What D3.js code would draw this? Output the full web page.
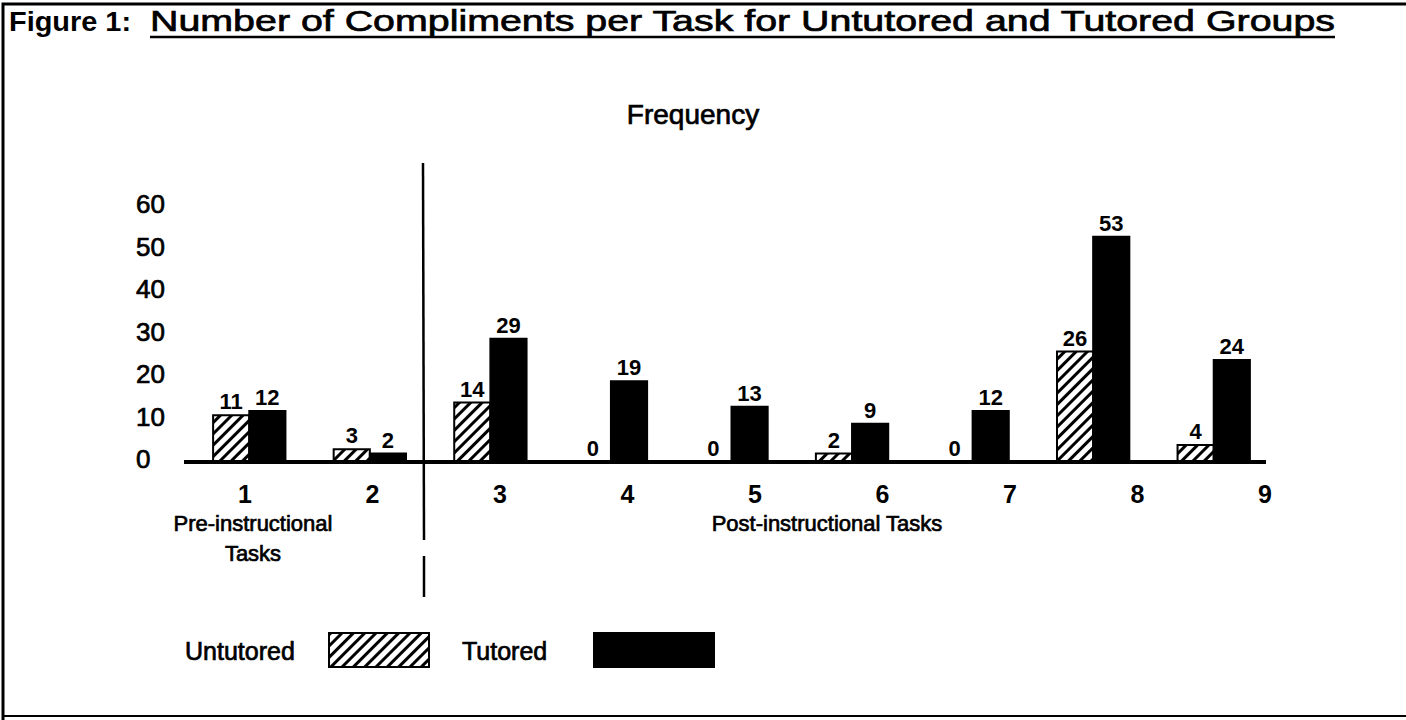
<!DOCTYPE html>
<html><head><meta charset="utf-8">
<script src="https://cdn.jsdelivr.net/npm/d3@7"></script>
<style>
html,body{margin:0;padding:0;background:#fff;}
svg{display:block;font-family:"Liberation Sans",Arial,Helvetica,sans-serif;}
.heavy{stroke:#000;stroke-width:0.7px;}
</style></head>
<body>
<svg id="chart" width="1406" height="720"></svg>
<script>
const tasks = ["1","2","3","4","5","6","7","8","9"];
const untutored = [11,3,14,0,0,2,0,26,4];
const tutored = [12,2,29,19,13,9,12,53,24];
const yTicks = [0,10,20,30,40,50,60];
const seriesNames = ["Untutored","Tutored"];
const titleLead = "Figure 1:";
const titleText = "Number of Compliments per Task for Untutored and Tutored Groups";
const subTitle = "Frequency";
const groupLabels = [["Pre-instructional","Tasks"],["Post-instructional Tasks"]];

const svg = d3.select("#chart");

// frame
svg.append("path").attr("d","M3,720 V4 H1406").attr("fill","none").attr("stroke","#000").attr("stroke-width",3);
svg.append("line").attr("x1",3).attr("x2",1406).attr("y1",716).attr("y2",716).attr("stroke","#000").attr("stroke-width",2);

// title
svg.append("text").attr("x",9).attr("y",31).attr("font-size",28).attr("font-weight","bold")
  .attr("textLength",122).attr("lengthAdjust","spacingAndGlyphs").text(titleLead);
svg.append("text").attr("class","heavy").attr("x",150).attr("y",31).attr("font-size",30)
  .attr("textLength",1185).attr("lengthAdjust","spacingAndGlyphs").text(titleText);
svg.append("line").attr("x1",150).attr("x2",1335).attr("y1",37).attr("y2",37).attr("stroke","#000").attr("stroke-width",2.5);

svg.append("text").attr("class","heavy").attr("x",693).attr("y",124).attr("text-anchor","middle").attr("font-size",28).text(subTitle);

// scales
const y = d3.scaleLinear().domain([0,60]).range([462,207]);
const x = d3.scaleBand().domain(tasks).range([189,1274]).paddingInner(0.4).paddingOuter(0.2);
const xs = d3.scaleBand().domain(seriesNames).range([0,x.bandwidth()]);
const xTick = d3.scalePoint().domain(tasks).range([245,1265]);

// hatch pattern
const defs = svg.append("defs");
const pat = defs.append("pattern").attr("id","hatch").attr("patternUnits","userSpaceOnUse")
  .attr("width",8).attr("height",8).attr("patternTransform","rotate(45)");
pat.append("rect").attr("width",8).attr("height",8).attr("fill","#fff");
pat.append("rect").attr("x",0).attr("y",0).attr("width",3).attr("height",8).attr("fill","#000");

// y labels
svg.append("g").selectAll("text").data(yTicks).join("text").attr("class","heavy")
  .attr("x",136).attr("y",d=>y(d)-3).attr("dy","0.35em").attr("font-size",26)
  .text(d=>d);

// bars
const data = tasks.map((t,i)=>({task:t, vals:[untutored[i],tutored[i]]}));
const g = svg.append("g");
data.forEach(d=>{
  d.vals.forEach((v,j)=>{
    const bx = x(d.task)+xs(seriesNames[j]);
    if(v>0){
      g.append("rect").attr("x",bx).attr("y",y(v)).attr("width",xs.bandwidth()).attr("height",y(0)-y(v))
        .attr("fill",j===0?"url(#hatch)":"#000").attr("stroke","#000").attr("stroke-width",2);
    }
    g.append("text").attr("x",bx+xs.bandwidth()/2).attr("y",y(v)-6).attr("text-anchor","middle")
      .attr("font-size",22).attr("font-weight","bold").text(v);
  });
});

// baseline
svg.append("line").attr("x1",184).attr("x2",1266).attr("y1",y(0)).attr("y2",y(0)).attr("stroke","#000").attr("stroke-width",4);

// divider
svg.append("line").attr("x1",423).attr("x2",424).attr("y1",163).attr("y2",540).attr("stroke","#000").attr("stroke-width",2.5);
svg.append("line").attr("x1",424).attr("x2",424).attr("y1",556).attr("y2",597).attr("stroke","#000").attr("stroke-width",2.5);

// x tick labels
svg.append("g").selectAll("text").data(tasks).join("text")
  .attr("x",d=>xTick(d)).attr("y",503).attr("text-anchor","middle").attr("font-size",25).attr("font-weight","bold")
  .text(d=>d);

// group labels
svg.append("text").attr("class","heavy").attr("x",253).attr("y",531).attr("text-anchor","middle").attr("font-size",22).text(groupLabels[0][0]);
svg.append("text").attr("class","heavy").attr("x",253).attr("y",561).attr("text-anchor","middle").attr("font-size",22).text(groupLabels[0][1]);
svg.append("text").attr("class","heavy").attr("x",827).attr("y",531).attr("text-anchor","middle").attr("font-size",22).text(groupLabels[1][0]);

// legend
svg.append("text").attr("class","heavy").attr("x",185).attr("y",660).attr("font-size",25).text(seriesNames[0]);
svg.append("rect").attr("x",329).attr("y",633).attr("width",100).attr("height",34).attr("fill","url(#hatch)").attr("stroke","#000").attr("stroke-width",2);
svg.append("text").attr("class","heavy").attr("x",462).attr("y",660).attr("font-size",25).text(seriesNames[1]);
svg.append("rect").attr("x",593).attr("y",632).attr("width",122).attr("height",36).attr("fill","#000");
</script>
</body></html>
